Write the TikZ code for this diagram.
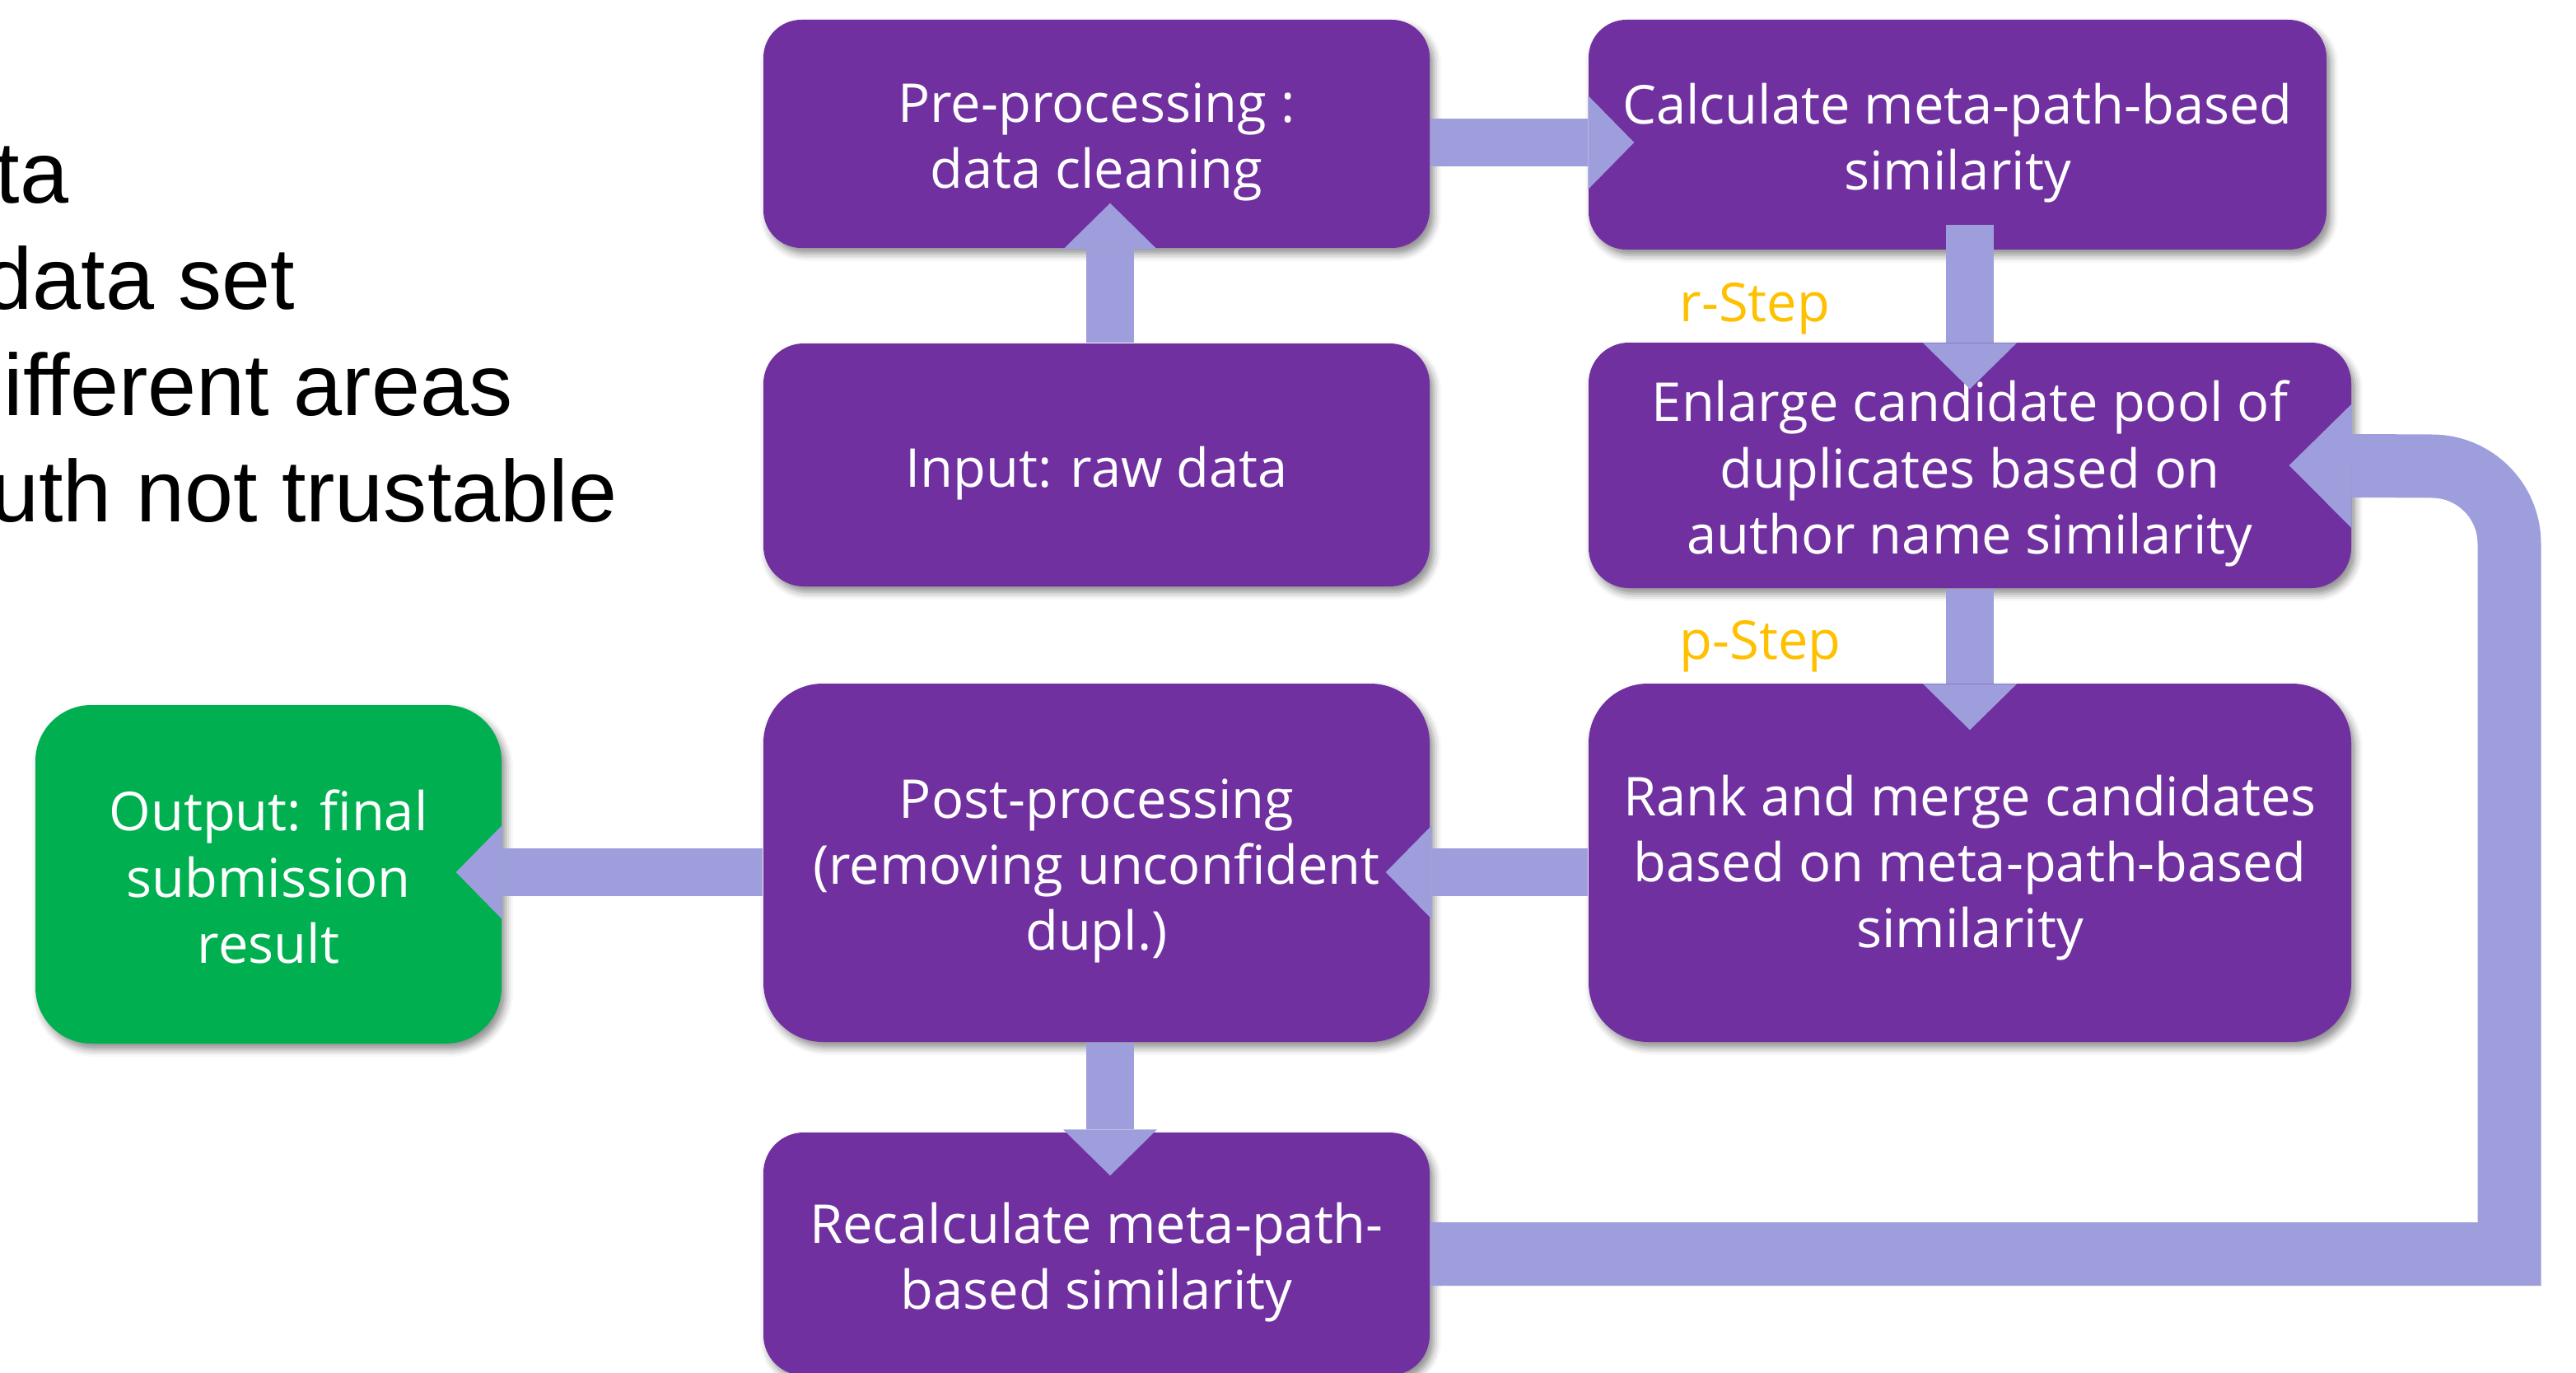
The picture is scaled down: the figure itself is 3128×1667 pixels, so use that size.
\documentclass[tikz,border=0pt]{standalone}
\usepackage{fontspec}
\setmainfont{Open Sans}
\newfontfamily\arialfont{Liberation Sans}
\usetikzlibrary{arrows.meta,shadows.blur,calc}
\definecolor{boxpurple}{HTML}{7030A0}
\definecolor{boxgreen}{HTML}{00B050}
\definecolor{flowarrow}{HTML}{9E9EDD}
\definecolor{steplabel}{HTML}{FFC000}
\begin{document}
\begin{tikzpicture}[x=0.1mm,y=-0.1mm,
  card/.style={fill=boxpurple, inner sep=0pt,
    blur shadow={shadow xshift=0.5mm, shadow yshift=-0.7mm,
      shadow blur radius=0.9mm, shadow opacity=45}},
  cardtext/.style={text=white, align=center, inner sep=0pt,
    font=\fontsize{18.5}{22.8}\selectfont},
  flow/.style={draw=flowarrow, line width=5.8mm,
    -{Triangle[width=11.4mm,length=5.6mm,line width=0pt]}},
  loopflow/.style={draw=flowarrow, line width=7.7mm,
    -{Triangle[width=15.1mm,length=7.6mm,line width=0pt]}},
  steptag/.style={text=steplabel, anchor=base west, inner sep=0pt,
    font=\fontsize{18.5}{22}\selectfont},
  bullettext/.style={anchor=base east, inner sep=0pt,
    font=\arialfont\fontsize{30.2}{36}\selectfont}
]
\useasboundingbox (0,0) rectangle (3128,1667);
\clip (0,0) rectangle (3128,1667);

% text block running in from the left edge
\node[bullettext] (l1) at (84,247) {ta};
\node[bullettext] (l2) at (359,375) {data set};
\node[bullettext] (l3) at (623,504) {ifferent areas};
\node[bullettext] (l4) at (750,633) {uth not trustable};

% process boxes
\node[card, minimum width=80.9mm, minimum height=27.7mm, rounded corners=4.6mm]
  (pre) at (1331.5,162.5) {};
\node[card, minimum width=89.6mm, minimum height=27.9mm, rounded corners=4.6mm]
  (calc) at (2377,163.5) {};
\node[card, minimum width=80.9mm, minimum height=29.5mm, rounded corners=4.9mm]
  (inp) at (1331.5,564.5) {};
\node[card, minimum width=92.6mm, minimum height=29.8mm, rounded corners=4.9mm]
  (enl) at (2392,565) {};
\node[card, minimum width=92.6mm, minimum height=43.5mm, rounded corners=7.2mm]
  (rank) at (2392,1047.5) {};
\node[card, minimum width=80.9mm, minimum height=43.5mm, rounded corners=7.2mm]
  (post) at (1331.5,1047.5) {};
\node[card, minimum width=80.9mm, minimum height=29.5mm, rounded corners=4.9mm]
  (rec) at (1331.5,1522.5) {};
\node[card, fill=boxgreen, minimum width=56.6mm, minimum height=41.1mm, rounded corners=6.8mm]
  (out) at (326,1061.5) {};

% box captions
\node[cardtext] (pre-t)  at ($(pre)+(0,10)$)  {Pre-processing :\\data cleaning};
\node[cardtext] (calc-t) at ($(calc)+(0,10)$) {Calculate meta-path-based\\similarity};
\node[cardtext] (inp-t)  at ($(inp)+(0,10)$)  {Input: raw data};
\node[cardtext] (enl-t)  at ($(enl)+(0,10)$)  {Enlarge candidate pool of\\duplicates based on\\author name similarity};
\node[cardtext] (rank-t) at ($(rank)+(0,6)$)  {Rank and merge candidates\\based on meta-path-based\\similarity};
\node[cardtext] (post-t) at ($(post)+(0,10)$) {Post-processing\\(removing unconfident\\dupl.)};
\node[cardtext] (rec-t)  at ($(rec)+(0,10)$)  {Recalculate meta-path-\\based similarity};
\node[cardtext] (out-t)  at ($(out)+(0,3)$)   {Output: final\\submission\\result};

% step labels
\node[steptag] (rstep) at (2039,391) {r-Step};
\node[steptag] (pstep) at (2039,800) {p-Step};

% flow arrows
\draw[flow] ($(inp.north)+(16.5,0)$) -- ($(pre.south)+(16.5,-55)$);
\draw[flow] ($(pre.east)+(0,10.5)$) -- ($(calc.west)+(56,9.5)$);
\draw[flow] ($(enl.north |- calc.south)+(0,-31)$) -- ($(enl.north)+(0,57)$);
\draw[flow] (rank.north |- enl.south) -- ($(rank.north)+(0,57)$);
\draw[flow] ($(rank.west)+(0,11.5)$) -- ($(post.east)+(-54,11.5)$);
\coordinate (postout) at ($(post.west)+(0,11.5)$);
\draw[flow] (postout) -- ($(out.east |- postout)+(-56,0)$);
\draw[flow] ($(post.south)+(16.5,0)$) -- ($(rec.north)+(16.5,53)$);

% feedback loop from the recalculation back to the candidate pool
\coordinate (loopdown) at (3047,1522.5);
\draw[loopflow] (rec.east) -- (loopdown) -- (3047,660)
  arc[start angle=0, end angle=90, radius=9.4mm]
  -- ($(enl.east)+(-76,0)$);
\end{tikzpicture}
\end{document}
